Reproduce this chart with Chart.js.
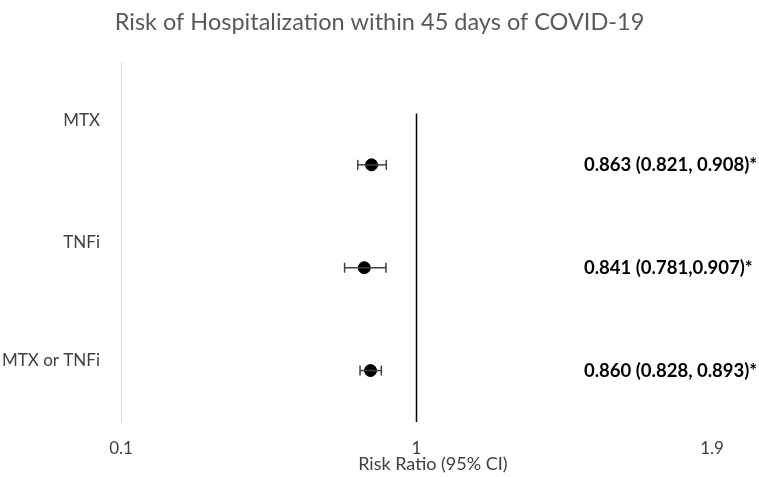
<!DOCTYPE html>
<html lang="en">
<head>
    <meta charset="UTF-8">
    <title>Risk of Hospitalization within 45 days of COVID-19</title>
    <style>
        html, body {
            margin: 0;
            padding: 0;
            background: #fff;
        }
        .wrap {
            width: 759px;
            height: 477px;
        }
    </style>
    <script src="https://cdn.jsdelivr.net/npm/chart.js"></script>
</head>
<body>
    <div class="wrap">
        <canvas id="forestChart" width="759" height="477"></canvas>
    </div>

    <script>
        // Data
        const categories = ['MTX', 'TNFi', 'MTX or TNFi'];
        const riskRatio = [0.863, 0.841, 0.860];
        const lowerCI = [0.821, 0.781, 0.828];
        const upperCI = [0.908, 0.907, 0.893];
        const ciText = ['0.863 (0.821, 0.908)*', '0.841 (0.781,0.907)*', '0.860 (0.828, 0.893)*'];
        const rowY = [3, 2, 1];              // row position of each estimate
        const labelY = [3.43, 2.245, 1.10];  // category labels sit above the rows
        const xTicks = [0.1, 1, 1.9];
        const textX = 1.51;                  // where the CI text starts (x value)
        const xTitle = 'Risk Ratio (95% CI)';

        const FONT = 'Lato, "Open Sans", sans-serif';

        // one small line dataset per confidence interval, with caps as rotated line points
        const ciSets = categories.map(function (c, i) {
            return {
                type: 'line',
                label: c + ' CI',
                data: [{ x: lowerCI[i], y: rowY[i] }, { x: upperCI[i], y: rowY[i] }],
                borderColor: '#404040',
                borderWidth: 1.5,
                pointStyle: 'line',
                pointRotation: 90,
                pointRadius: 5,
                pointBorderColor: '#404040',
                pointBorderWidth: 1.5,
                pointHoverRadius: 5
            };
        });

        // text on the right of each row + the x axis title (sits a bit right of centre)
        const ciLabels = {
            id: 'ciLabels',
            afterDatasetsDraw(chart) {
                const ctx = chart.ctx;
                const xs = chart.scales.x, ys = chart.scales.y;
                ctx.save();
                ctx.font = 'bold 18.5px ' + FONT;
                ctx.fillStyle = '#000';
                ctx.textAlign = 'left';
                ctx.textBaseline = 'middle';
                ciText.forEach(function (t, i) {
                    ctx.fillText(t, xs.getPixelForValue(textX), ys.getPixelForValue(rowY[i]));
                });

                ctx.font = '18px ' + FONT;
                ctx.fillStyle = '#404040';
                ctx.textAlign = 'center';
                ctx.fillText(xTitle, xs.getPixelForValue(1.05), chart.chartArea.bottom + 42);
                ctx.restore();
            }
        };

        const ctx = document.getElementById('forestChart').getContext('2d');
        new Chart(ctx, {
            type: 'scatter',
            data: {
                datasets: [
                    {
                        type: 'line',
                        label: 'RR = 1',
                        data: [{ x: 1, y: 0.5 }, { x: 1, y: 3.5 }],
                        borderColor: '#000',
                        borderWidth: 1.5,
                        pointRadius: 0
                    }
                ].concat(ciSets).concat([
                    {
                        label: 'Risk Ratio',
                        data: riskRatio.map(function (v, i) { return { x: v, y: rowY[i] }; }),
                        backgroundColor: '#000',
                        borderColor: '#000',
                        pointRadius: 6,
                        pointHoverRadius: 6
                    }
                ])
            },
            options: {
                responsive: false,
                animation: false,
                layout: {
                    padding: { left: 0, right: 0, top: 0, bottom: 2.6 }
                },
                plugins: {
                    legend: { display: false },
                    tooltip: { enabled: false },
                    title: {
                        display: true,
                        text: 'Risk of Hospitalization within 45 days of COVID-19',
                        color: '#595959',
                        font: { family: FONT, size: 23.5, weight: 'normal' },
                        padding: { top: 8, bottom: 25.8 }
                    }
                },
                scales: {
                    x: {
                        type: 'linear',
                        min: 0.1,
                        max: 1.9,
                        afterBuildTicks: function (axis) {
                            axis.ticks = xTicks.map(function (v) { return { value: v }; });
                        },
                        ticks: {
                            color: '#404040',
                            font: { family: FONT, size: 17 },
                            padding: 16,
                            maxRotation: 0,
                            callback: function (v) { return String(v); }
                        },
                        grid: { display: false, drawTicks: false },
                        border: { display: false }
                    },
                    y: {
                        type: 'linear',
                        min: 0.5,
                        max: 4,
                        afterBuildTicks: function (axis) {
                            axis.ticks = labelY.map(function (v) { return { value: v }; });
                        },
                        afterFit: function (axis) {
                            axis.width = 121;
                        },
                        ticks: {
                            color: '#404040',
                            font: { family: FONT, size: 17 },
                            padding: 21,
                            callback: function (v, i) { return categories[i]; }
                        },
                        grid: { display: false, drawTicks: false },
                        border: { display: true, color: '#d9d9d9', width: 1 }
                    },
                    yRight: {
                        type: 'linear',
                        position: 'right',
                        min: 0.5,
                        max: 4,
                        afterFit: function (axis) {
                            axis.width = 47;
                        },
                        ticks: { display: false },
                        grid: { display: false, drawTicks: false },
                        border: { display: false }
                    }
                }
            },
            plugins: [ciLabels]
        });
    </script>
</body>
</html>
